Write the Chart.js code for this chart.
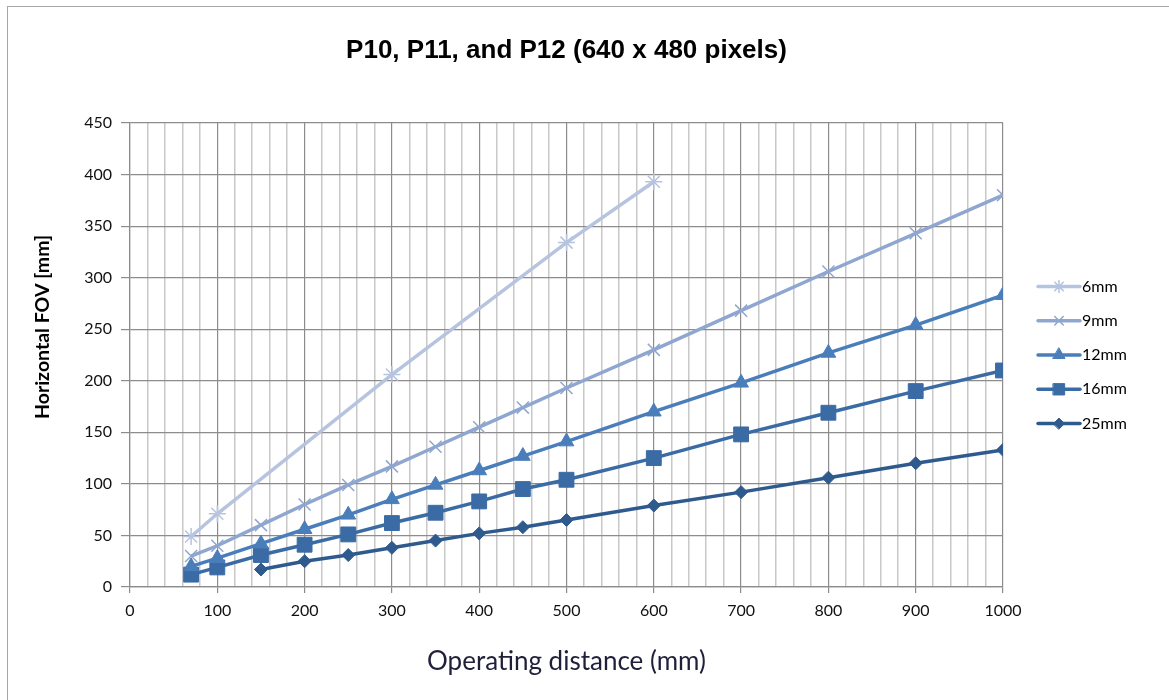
<!DOCTYPE html>
<html>
<head>
<meta charset="utf-8">
<title>P10, P11, and P12 (640 x 480 pixels)</title>
<script src="https://cdn.jsdelivr.net/npm/chart.js@4/dist/chart.umd.min.js"></script>
<style>
    html, body { margin: 0; padding: 0; background: #fff; }
    #wrap { position: relative; width: 1169px; height: 700px; overflow: hidden; }
    #frame { position: absolute; left: 7px; top: 6px; width: 1200px; height: 760px; border: 1.5px solid #a6a6a6; }
    #chart { position: absolute; left: 0; top: 0; }
</style>
</head>
<body>
<div id="wrap">
    <div id="frame"></div>
    <canvas id="chart" width="1169" height="700"></canvas>
</div>
<script>
// Series data (operating distance mm -> horizontal FOV mm)
const seriesNames = ['6mm', '9mm', '12mm', '16mm', '25mm'];

const dist6 = [70, 100, 300, 500, 600];
const fov6 = [49, 71, 206, 334, 393];

const dist9 = [70, 100, 150, 200, 250, 300, 350, 400, 450, 500, 600, 700, 800, 900, 1000];
const fov9 = [30, 40, 60, 80, 99, 117, 136, 155, 174, 193, 230, 268, 306, 343, 380];

const dist12 = [70, 100, 150, 200, 250, 300, 350, 400, 450, 500, 600, 700, 800, 900, 1000];
const fov12 = [20, 28, 42, 56, 70, 85, 99, 113, 127, 141, 170, 198, 227, 254, 283];

const dist16 = [70, 100, 150, 200, 250, 300, 350, 400, 450, 500, 600, 700, 800, 900, 1000];
const fov16 = [12, 19, 31, 41, 51, 62, 72, 83, 95, 104, 125, 148, 169, 190, 210];

const dist25 = [150, 200, 250, 300, 350, 400, 450, 500, 600, 700, 800, 900, 1000];
const fov25 = [17, 25, 31, 38, 45, 52, 58, 65, 79, 92, 106, 120, 133];

// Colours and markers per series
const seriesColors = ['#b7c4df', '#8fa6d0', '#4a7ebb', '#3b6ba5', '#2e5a8e'];
const seriesMarkers = ['star', 'crossRot', 'triangle', 'rect', 'rectRot'];
const markerSizes = [8.5, 8.5, 8.5, 10.5, 6.5];
const legendMarkerSizes = [6, 6, 7, 8, 5.5];

const tickFont = { family: 'Lato, "Open Sans", sans-serif', size: 16 };

function toPoints(xs, ys) {
    return xs.map((x, i) => ({ x: x, y: ys[i] }));
}

const allData = [
    toPoints(dist6, fov6),
    toPoints(dist9, fov9),
    toPoints(dist12, fov12),
    toPoints(dist16, fov16),
    toPoints(dist25, fov25)
];

const datasets = seriesNames.map((name, i) => ({
    label: name,
    data: allData[i],
    borderColor: seriesColors[i],
    backgroundColor: seriesColors[i],
    borderWidth: 3.5,
    pointStyle: seriesMarkers[i],
    pointRadius: markerSizes[i],
    pointBorderWidth: (i < 2) ? 1.5 : 1,
    pointBorderColor: seriesColors[i],
    pointBackgroundColor: seriesColors[i],
    tension: 0
}));

// Excel-style legend: short line with the marker in the middle
const sideLegend = {
    id: 'sideLegend',
    afterDraw(chart) {
        const ctx = chart.ctx;
        const area = chart.chartArea;
        const x0 = area.right + 35;
        const lineLen = 42;
        const gap = 34.3;
        const n = chart.data.datasets.length;
        const yStart = (area.top + area.bottom) / 2 - gap * (n - 1) / 2;
        ctx.save();
        chart.data.datasets.forEach((ds, i) => {
            const y = yStart + i * gap;
            ctx.strokeStyle = ds.borderColor;
            ctx.lineWidth = 3.5;
            ctx.lineCap = 'round';
            ctx.beginPath();
            ctx.moveTo(x0, y);
            ctx.lineTo(x0 + lineLen, y);
            ctx.stroke();
            ctx.fillStyle = ds.backgroundColor;
            ctx.lineWidth = ds.pointBorderWidth;
            Chart.helpers.drawPoint(ctx, {
                pointStyle: ds.pointStyle,
                radius: legendMarkerSizes[i],
                rotation: 0,
                borderWidth: ds.pointBorderWidth
            }, x0 + lineLen / 2, y);
            ctx.fillStyle = '#000';
            ctx.font = '16px Lato, "Open Sans", sans-serif';
            ctx.textAlign = 'left';
            ctx.textBaseline = 'middle';
            ctx.fillText(ds.label, x0 + lineLen + 2, y);
        });
        ctx.restore();
    }
};

// Y axis title sits a little above the middle, as in the original
const yAxisTitle = {
    id: 'yAxisTitle',
    afterDraw(chart) {
        const ctx = chart.ctx;
        const area = chart.chartArea;
        ctx.save();
        ctx.translate(42.5, (area.top + area.bottom) / 2 - 28);
        ctx.rotate(-Math.PI / 2);
        ctx.font = 'bold 19.5px Lato, "Open Sans", sans-serif';
        ctx.fillStyle = '#000';
        ctx.textAlign = 'center';
        ctx.textBaseline = 'middle';
        ctx.fillText('Horizontal FOV [mm]', 0, 0);
        ctx.restore();
    }
};

new Chart(document.getElementById('chart'), {
    type: 'line',
    data: { datasets: datasets },
    plugins: [sideLegend, yAxisTitle],
    options: {
        responsive: false,
        animation: false,
        events: [],
        layout: {
            padding: { left: 0, right: 166, top: 0, bottom: 0 }
        },
        plugins: {
            legend: { display: false },
            tooltip: { enabled: false },
            title: {
                display: true,
                fullSize: false,
                text: 'P10, P11, and P12 (640 x 480 pixels)',
                color: '#000',
                font: { family: '"Liberation Sans", Arial, sans-serif', size: 26, weight: 'bold' },
                padding: { top: 35.4, bottom: 56.4 }
            }
        },
        scales: {
            x: {
                type: 'linear',
                min: 0,
                max: 1000,
                afterFit: (scale) => { scale.height = 113; },
                ticks: {
                    stepSize: 20,
                    autoSkip: false,
                    maxRotation: 0,
                    color: '#111',
                    font: tickFont,
                    padding: 8,
                    callback: (v) => (v % 100 === 0 ? v : '')
                },
                grid: {
                    color: (c) => (c.tick && c.tick.value % 100 === 0 ? '#8c8c8c' : '#c8c8c8'),
                    lineWidth: (c) => (c.tick && c.tick.value % 100 === 0 ? 1.2 : 1.5),
                    tickColor: (c) => (c.tick && c.tick.value % 100 === 0 ? '#8c8c8c' : 'rgba(0,0,0,0)'),
                    tickLength: 6
                },
                border: { color: '#8c8c8c', width: 1.2 },
                title: {
                    display: true,
                    text: 'Operating distance (mm)',
                    color: '#1f1f3a',
                    font: { family: 'Lato, "Open Sans", sans-serif', size: 26 },
                    padding: { top: 4, bottom: 23 }
                }
            },
            y: {
                min: 0,
                max: 450,
                afterFit: (scale) => { scale.width = 130; },
                ticks: {
                    stepSize: 50,
                    color: '#111',
                    font: tickFont,
                    padding: 9
                },
                grid: {
                    color: '#8c8c8c',
                    lineWidth: 1.2,
                    tickLength: 9
                },
                border: { color: '#8c8c8c', width: 1.2 }
            }
        }
    }
});
</script>
</body>
</html>
